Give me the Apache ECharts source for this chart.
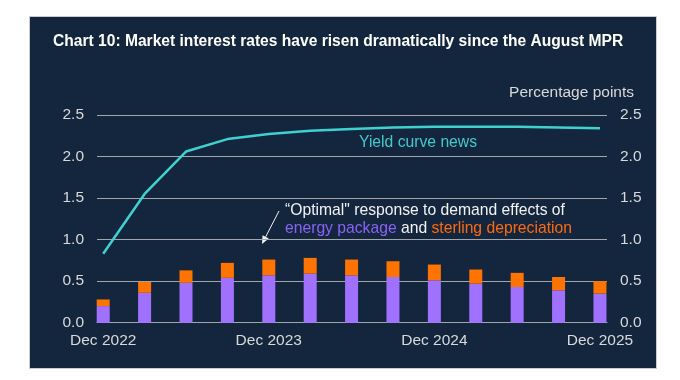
<!DOCTYPE html>
<html>
<head>
<meta charset="utf-8">
<script src="https://cdn.jsdelivr.net/npm/echarts@6/dist/echarts.min.js"></script>
<style>
  html, body { margin: 0; padding: 0; background: #ffffff; }
  #wrap { position: relative; width: 680px; height: 380px; background: #ffffff; }
  #panel { position: absolute; left: 29px; top: 16px; width: 626px; height: 351px; background: #14263e; border: 1px solid #c8ccd2; }
  #chart { position: absolute; left: 0; top: 0; width: 680px; height: 380px; }
</style>
</head>
<body>
<div id="wrap"><div id="panel"></div><div id="chart"></div></div>
<script>
// Quarterly points, Dec 2022 .. Dec 2025
const quarters = ['Dec 2022','Mar 2023','Jun 2023','Sep 2023','Dec 2023','Mar 2024','Jun 2024','Sep 2024','Dec 2024','Mar 2025','Jun 2025','Sep 2025','Dec 2025'];
const yieldCurveNews = [0.83, 1.55, 2.06, 2.21, 2.27, 2.31, 2.33, 2.35, 2.36, 2.36, 2.36, 2.35, 2.34];
const energyPackage = [0.20, 0.36, 0.48, 0.54, 0.57, 0.59, 0.57, 0.55, 0.51, 0.47, 0.43, 0.39, 0.35];
const sterlingDepreciation = [0.08, 0.13, 0.15, 0.18, 0.19, 0.19, 0.19, 0.19, 0.19, 0.17, 0.17, 0.16, 0.15];
const xTickLabels = ['Dec 2022', 'Dec 2023', 'Dec 2024', 'Dec 2025'];

const xTickIdx = xTickLabels.map(l => quarters.indexOf(l));
const toPairs = arr => arr.map((v, i) => [i, v]);

const FONT = '"Liberation Sans", Arial, sans-serif';
const LABEL = '#d9d9d9';
const GRIDC = '#a3a7ad';

// plot frame (pixels) and x range in quarter units
const G = { left: 97, right: 73, top: 115, bottom: 57.3 };
const XMIN = -0.15, XMAX = 12.17;
const unit = (680 - G.left - G.right) / (XMAX - XMIN);
const x0 = G.left - XMIN * unit;               // pixel of index 0
const barGrid = { left: x0 - unit / 2, right: 680 - (x0 + (quarters.length - 0.5) * unit), top: G.top, bottom: G.bottom };

const chart = echarts.init(document.getElementById('chart'), null, { renderer: 'canvas' });

// arrow geometry (annotation, pixels)
const ax1 = 279, ay1 = 211, ax2 = 262, ay2 = 244;
const ang = Math.atan2(ay2 - ay1, ax2 - ax1);
const hl = 8, hw = 3.5;
const bx = ax2 - hl * Math.cos(ang), by = ay2 - hl * Math.sin(ang);
const head = [
  [ax2, ay2],
  [bx + hw * Math.sin(ang), by - hw * Math.cos(ang)],
  [bx - hw * Math.sin(ang), by + hw * Math.cos(ang)]
];

const yAxisBase = {
  type: 'value', min: 0, max: 2.5, interval: 0.5, gridIndex: 0,
  axisLine: { show: false }, axisTick: { show: false },
  axisLabel: { color: LABEL, fontSize: 15.5, fontFamily: FONT, margin: 13, formatter: v => v.toFixed(1) }
};

const AF = '15.7px ' + FONT;

chart.setOption({
  backgroundColor: 'transparent',
  animation: false,
  title: {
    text: 'Chart 10: Market interest rates have risen dramatically since the August MPR',
    left: 48, top: 29,
    textStyle: { color: '#ffffff', fontSize: 15.6, fontWeight: 'bold', fontFamily: FONT }
  },
  grid: [
    Object.assign({ containLabel: false }, G),
    Object.assign({ containLabel: false }, barGrid)
  ],
  xAxis: [
    {
      type: 'value', min: XMIN, max: XMAX, gridIndex: 0,
      splitLine: { show: false },
      axisLine: { show: true, onZero: false, lineStyle: { color: GRIDC, width: 1 } },
      axisTick: { show: false },
      axisLabel: {
        customValues: xTickIdx,
        color: LABEL, fontSize: 15.5, fontFamily: FONT, margin: 10,
        formatter: v => quarters[Math.round(v)]
      }
    },
    {
      type: 'category', data: quarters, gridIndex: 1, boundaryGap: true,
      axisLine: { show: false }, axisTick: { show: false }, axisLabel: { show: false }, splitLine: { show: false }
    }
  ],
  yAxis: [
    Object.assign({}, yAxisBase, { position: 'left', splitLine: { show: true, lineStyle: { color: GRIDC, width: 1 } } }),
    Object.assign({}, yAxisBase, { position: 'right', splitLine: { show: false } }),
    { type: 'value', min: 0, max: 2.5, gridIndex: 1, show: false }
  ],
  series: [
    {
      name: 'Energy package', type: 'bar', stack: 'resp', barWidth: 13,
      xAxisIndex: 1, yAxisIndex: 2,
      data: energyPackage, itemStyle: { color: '#a070ff' }, z: 3
    },
    {
      name: 'Sterling depreciation', type: 'bar', stack: 'resp', barWidth: 13,
      xAxisIndex: 1, yAxisIndex: 2,
      data: sterlingDepreciation, itemStyle: { color: '#ff7300' }, z: 3
    },
    {
      name: 'Yield curve news', type: 'line', data: toPairs(yieldCurveNews),
      xAxisIndex: 0, yAxisIndex: 0,
      symbol: 'none', lineStyle: { color: '#3fd0d0', width: 2.5 }, z: 4
    }
  ],
  graphic: [
    {
      type: 'text', right: 680 - 634, top: 85,
      style: { text: 'Percentage points', fill: LABEL, font: '15.5px ' + FONT }
    },
    {
      type: 'text', x: 359, y: 143,
      style: { text: 'Yield curve news', fill: '#3fc9c9', font: AF, verticalAlign: 'middle' }
    },
    {
      type: 'text', x: 285, y: 202,
      style: {
        text: '{w|\u201cOptimal" response to demand effects of}\n{p|energy package}{w| and }{o|sterling depreciation}',
        font: AF,
        lineHeight: 17.6,
        rich: {
          w: { fill: '#f2f2f2', font: AF, lineHeight: 17.6 },
          p: { fill: '#8a63f5', font: AF, lineHeight: 17.6 },
          o: { fill: '#ff6a10', font: AF, lineHeight: 17.6 }
        }
      }
    },
    {
      type: 'line', shape: { x1: ax1, y1: ay1, x2: bx, y2: by },
      style: { stroke: '#f2f2f2', lineWidth: 1 }
    },
    {
      type: 'polygon', shape: { points: head },
      style: { fill: '#f2f2f2' }
    }
  ]
});
</script>
</body>
</html>
